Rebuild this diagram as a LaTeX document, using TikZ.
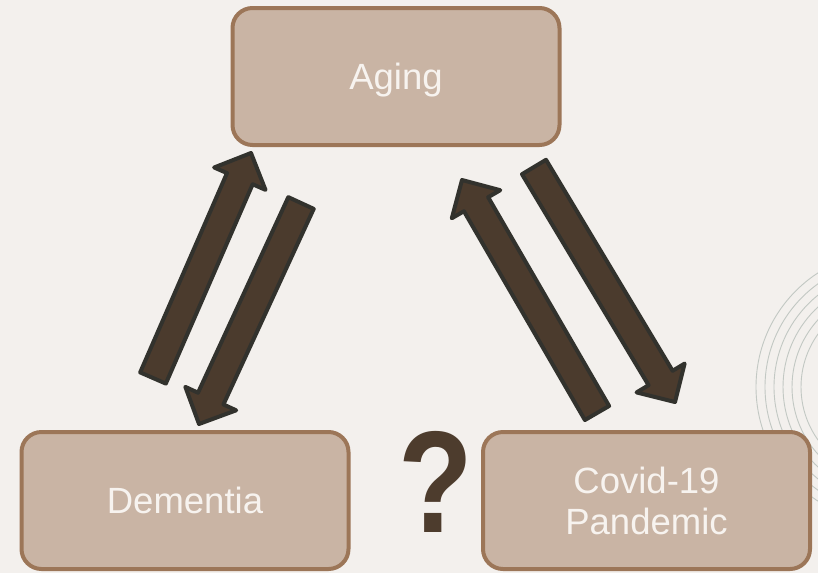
\documentclass[tikz,border=0pt]{standalone}
\usepackage{fontspec}
\setmainfont{Liberation Sans}
\usetikzlibrary{calc}
\definecolor{bg}{HTML}{F3F0ED}
\definecolor{boxfill}{HTML}{C9B4A4}
\definecolor{boxline}{HTML}{9C7658}
\definecolor{arrfill}{HTML}{4B3B2D}
\definecolor{arrline}{HTML}{32322D}
\definecolor{arcline}{HTML}{C2C8C3}
\definecolor{txt}{HTML}{F7F3EF}
\definecolor{qmark}{HTML}{4D3C2D}
\tikzset{
  box/.style={draw=boxline, fill=boxfill, line width=4pt, rounded corners=20pt,
    minimum width=327pt, minimum height=137pt, text=txt, align=center,
    font=\fontsize{36.5}{41}\selectfont},
  fatarrow/.style={draw=arrline, fill=arrfill, line width=4pt, line join=round},
  ring/.style={draw=arcline, line width=0.9pt}
}
% #1 tail, #2 tip
\newcommand{\blockarrow}[2]{%
  \coordinate (#1#2b) at ($(#2)!28pt!(#1)$);
  \draw[fatarrow] ($(#1)!14pt!90:(#2)$) -- ($(#1#2b)!14pt!90:(#2)$)
    -- ($(#1#2b)!28pt!90:(#2)$) -- (#2) -- ($(#1#2b)!28pt!-90:(#2)$)
    -- ($(#1#2b)!14pt!-90:(#2)$) -- ($(#1)!14pt!-90:(#2)$) -- cycle;
}
\begin{document}
\begin{tikzpicture}[x=1pt,y=-1pt]
\useasboundingbox (0,0) rectangle (818,573);
\clip (0,0) rectangle (818,573);
\fill[bg] (0,0) rectangle (818,573);
% concentric arcs
\foreach \r in {136,127,118,109,100,91} {
  \draw[ring] (892,387) circle[radius=\r];
}
% boxes
\node[box] (aging) at (396,76.5) {\raisebox{0pt}[\height][0pt]{Aging}};
\node[box] (dementia) at (185,500.5) {Dementia};
\node[box] (covid) at (646.5,500.5) {Covid-19\\Pandemic};
% question mark
\node[inner sep=0, xscale=0.86, yscale=1.02, text=qmark] (qm) at (436,481.5)
  {\fontsize{142}{142}\selectfont\bfseries ?};
% arrow end points
\coordinate (a1t) at (153,378);
\coordinate (a1h) at (251,153);
\coordinate (a2t) at (301,203);
\coordinate (a2h) at (199,424);
\coordinate (a3t) at (597,413);
\coordinate (a3h) at (462,180);
\coordinate (a4t) at (534,167);
\coordinate (a4h) at (675,402);
\blockarrow{a1t}{a1h}
\blockarrow{a2t}{a2h}
\blockarrow{a3t}{a3h}
\blockarrow{a4t}{a4h}
\end{tikzpicture}
\end{document}
